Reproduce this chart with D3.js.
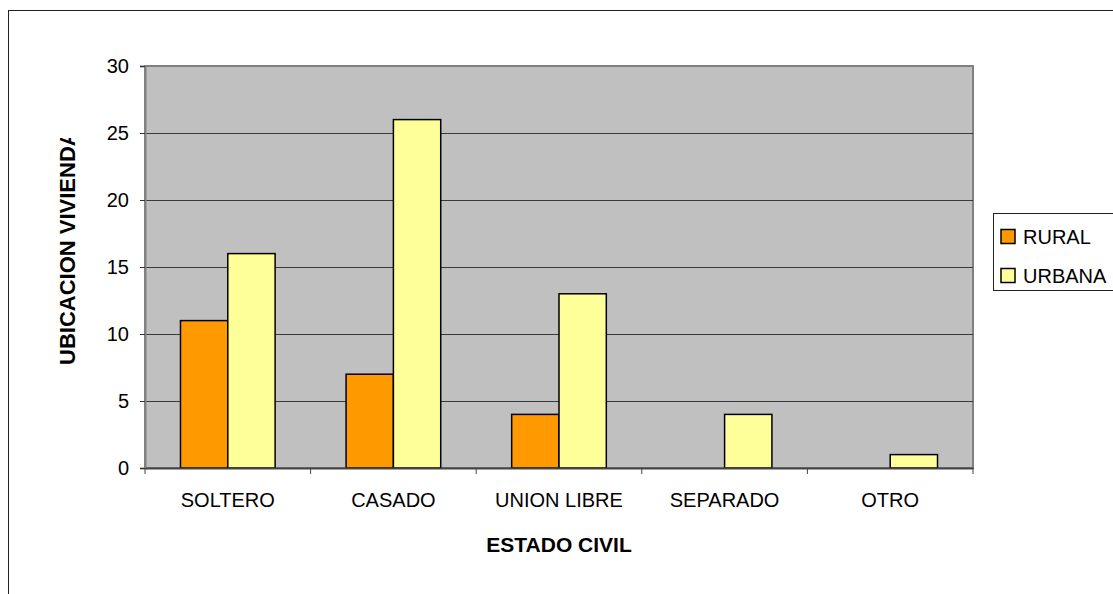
<!DOCTYPE html>
<html>
<head>
<meta charset="utf-8">
<script src="https://cdn.jsdelivr.net/npm/d3@7"></script>
<style>
  body { margin: 0; background: #fff; }
  text { font-family: "Liberation Sans", Arial, sans-serif; }
</style>
</head>
<body>
<div id="chart"></div>
<script>
var w = 1113;
var h = 594;

// data
var categories = ["SOLTERO", "CASADO", "UNION LIBRE", "SEPARADO", "OTRO"];
var seriesNames = ["RURAL", "URBANA"];
var rural = [11, 7, 4, 0, 0];
var urbana = [16, 26, 13, 4, 1];
var yTicks = [0, 5, 10, 15, 20, 25, 30];
var colors = ["#ff9900", "#ffff99"];

var plot = { left: 145, right: 973, top: 66, bottom: 468 };
var font = "'Liberation Sans', Arial, sans-serif";

var svg = d3.select("#chart")
            .append("svg")
            .attr("width", w)
            .attr("height", h);

// outer chart border
svg.append("rect")
    .attr("x", 8.5).attr("y", 10.5)
    .attr("width", w + 20).attr("height", h + 20)
    .attr("fill", "#fff")
    .attr("stroke", "#222")
    .attr("stroke-width", 1);

// scales
var xScale = d3.scaleBand()
    .domain(categories)
    .range([plot.left, plot.right]);
var barW = xScale.bandwidth() / 3.5;
var inner = d3.scaleBand()
    .domain(seriesNames)
    .range([0, barW * 2]);
var yScale = d3.scaleLinear()
    .domain([0, 30])
    .range([plot.bottom, plot.top]);

// plot background
svg.append("rect")
    .attr("x", plot.left).attr("y", plot.top)
    .attr("width", plot.right - plot.left)
    .attr("height", plot.bottom - plot.top)
    .attr("fill", "#c0c0c0")
    .attr("stroke", "#808080")
    .attr("stroke-width", 2);

// gridlines
svg.selectAll(".grid")
    .data(yTicks.filter(d => d > 0 && d < 30))
    .enter()
    .append("line")
    .attr("x1", plot.left).attr("x2", plot.right)
    .attr("y1", d => Math.round(yScale(d)) + 0.5)
    .attr("y2", d => Math.round(yScale(d)) + 0.5)
    .attr("stroke", "#3a3a3a")
    .attr("stroke-width", 1.2);

// bars
var rows = categories.map((c, i) => ({ cat: c, values: [rural[i], urbana[i]] }));
var groups = svg.selectAll(".grp")
    .data(rows)
    .enter()
    .append("g")
    .attr("transform", d => "translate(" + (xScale(d.cat) + (xScale.bandwidth() - barW * 2) / 2) + ",0)");
groups.selectAll("rect")
    .data(d => d.values.map((v, j) => ({ name: seriesNames[j], v: v, j: j })).filter(e => e.v > 0))
    .enter()
    .append("rect")
    .attr("x", d => inner(d.name))
    .attr("y", d => yScale(d.v))
    .attr("width", inner.bandwidth())
    .attr("height", d => yScale(0) - yScale(d.v))
    .attr("fill", d => colors[d.j])
    .attr("stroke", "#000")
    .attr("stroke-width", 1.5);

// axes
var yAxis = d3.axisLeft(yScale)
    .tickValues(yTicks)
    .tickSize(5)
    .tickPadding(11);
var gy = svg.append("g")
    .attr("transform", "translate(" + plot.left + ",0)")
    .call(yAxis);
gy.select(".domain").attr("stroke", "#808080").attr("stroke-width", 2);
gy.selectAll(".tick line").attr("stroke", "#333");
gy.selectAll("text").attr("font-size", 20).attr("fill", "#000").attr("font-family", font);

var xAxis = d3.axisBottom(xScale).tickSize(0).tickPadding(25);
var gx = svg.append("g")
    .attr("transform", "translate(0," + plot.bottom + ")")
    .call(xAxis);
gx.select(".domain").attr("stroke", "#444").attr("stroke-width", 2);
gx.selectAll("text").attr("font-size", 20).attr("fill", "#000").attr("font-family", font);
// category separators
gx.selectAll(".sep")
    .data(categories.map(c => xScale(c)).concat([plot.right]))
    .enter()
    .append("line")
    .attr("x1", d => d).attr("x2", d => d)
    .attr("y1", 0).attr("y2", 6)
    .attr("stroke", "#444");

// axis titles
svg.append("text")
    .attr("x", (plot.left + plot.right) / 2)
    .attr("y", 552)
    .attr("text-anchor", "middle")
    .attr("font-size", 21)
    .attr("font-weight", "bold")
    .text("ESTADO CIVIL");

// y title is cut at the top in the original
svg.append("clipPath").attr("id", "yclip")
    .append("rect").attr("x", 0).attr("y", 138).attr("width", 120).attr("height", 300);
svg.append("g")
    .attr("clip-path", "url(#yclip)")
    .append("text")
    .attr("transform", "translate(75,365) rotate(-90)")
    .attr("text-anchor", "start")
    .attr("font-size", 22)
    .attr("font-weight", "bold")
    .text("UBICACION VIVIENDA");

// legend
var legend = svg.append("g").attr("transform", "translate(993.5,213.5)");
legend.append("rect")
    .attr("width", 140).attr("height", 77)
    .attr("fill", "#fff")
    .attr("stroke", "#222");
var items = legend.selectAll(".item")
    .data(seriesNames)
    .enter()
    .append("g")
    .attr("transform", (d, i) => "translate(7.5," + (16 + i * 39) + ")");
items.append("rect")
    .attr("width", 14).attr("height", 14)
    .attr("fill", (d, i) => colors[i])
    .attr("stroke", "#000")
    .attr("stroke-width", 1.5);
items.append("text")
    .attr("x", 22).attr("y", 14)
    .attr("font-size", 20)
    .text(d => d);
</script>
</body>
</html>
